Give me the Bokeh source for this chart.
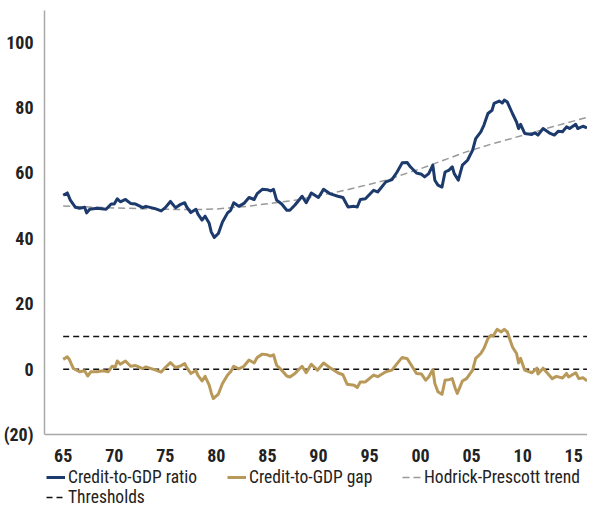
from bokeh.plotting import figure
from bokeh.models import Legend, LegendItem, FixedTicker, Range1d
from bokeh.embed import file_html
from bokeh.resources import INLINE

# ---- data ----
ratio_years = [1965.0, 1965.4, 1965.7, 1966.2, 1966.6, 1967.1, 1967.3, 1967.6, 1968.3, 1969.2,
               1969.7, 1970.0, 1970.3, 1970.6, 1971.1, 1971.6, 1972.1, 1972.8, 1973.1, 1974.0,
               1974.6, 1975.0, 1975.5, 1976.0, 1976.5, 1976.9, 1977.1, 1977.5, 1978.0, 1978.2,
               1978.6, 1978.9, 1979.3, 1979.5, 1979.8, 1980.2, 1980.6, 1981.1, 1981.4, 1981.7,
               1982.2, 1982.7, 1983.2, 1983.7, 1984.0, 1984.5, 1985.0, 1985.3, 1985.6, 1985.9,
               1986.4, 1986.9, 1987.2, 1987.7, 1988.4, 1988.8, 1989.3, 1990.0, 1990.5, 1991.1,
               1991.9, 1992.4, 1992.9, 1993.5, 1993.8, 1994.1, 1994.6, 1995.4, 1995.8, 1996.6,
               1997.2, 1997.7, 1998.2, 1998.7, 1999.0, 1999.6, 2000.1, 2000.4, 2000.8, 2001.2,
               2001.4, 2001.7, 2002.1, 2002.4, 2002.8, 2003.1, 2003.3, 2003.7, 2004.1, 2004.6,
               2005.1, 2005.4, 2005.9, 2006.2, 2006.6, 2007.0, 2007.2, 2007.7, 2008.0, 2008.2,
               2008.5, 2009.0, 2009.4, 2009.6, 2009.8, 2010.2, 2010.9, 2011.2, 2011.5, 2012.0,
               2012.7, 2013.1, 2013.5, 2013.9, 2014.3, 2014.6, 2015.2, 2015.4, 2015.9, 2016.3]
ratio = [53.2, 53.9, 51.7, 49.5, 49.2, 49.5, 47.8, 48.9, 49.2, 48.9,
         50.5, 50.5, 52.1, 51.2, 51.9, 50.7, 50.5, 49.4, 49.8, 49.1,
         48.4, 49.4, 51.3, 49.4, 50.4, 50.9, 49.6, 47.9, 48.9, 47.4,
         45.6, 46.8, 44.6, 42.0, 40.3, 41.5, 45.0, 47.8, 48.6, 50.9,
         49.8, 50.7, 52.5, 51.9, 53.7, 55.0, 54.9, 54.5, 55.0, 51.7,
         50.5, 48.6, 48.6, 50.2, 52.9, 50.9, 53.9, 52.5, 55.0, 53.7,
         52.9, 52.5, 49.6, 49.8, 49.6, 51.9, 52.1, 54.7, 54.2, 57.3,
         58.0, 60.3, 63.1, 63.2, 61.9, 60.0, 59.6, 58.8, 59.8, 62.4,
         57.8, 56.3, 55.7, 60.3, 60.9, 61.9, 59.8, 57.8, 62.4, 63.9,
         67.0, 70.5, 72.6, 74.6, 78.2, 79.2, 81.3, 82.0, 81.4, 82.3,
         81.7, 78.2, 75.6, 73.6, 74.9, 72.1, 71.8, 72.3, 71.6, 73.6,
         72.1, 71.6, 72.8, 72.6, 74.1, 73.6, 74.9, 73.6, 74.3, 73.8]

gap_years = [1965.0, 1965.4, 1965.6, 1966.0, 1966.6, 1967.1, 1967.4, 1967.7, 1968.3, 1968.9,
             1969.4, 1969.8, 1970.1, 1970.3, 1970.6, 1971.1, 1971.6, 1972.1, 1972.8, 1973.1,
             1974.0, 1974.6, 1975.0, 1975.5, 1976.0, 1976.5, 1976.9, 1977.1, 1977.5, 1978.0,
             1978.2, 1978.6, 1978.9, 1979.3, 1979.5, 1979.7, 1980.2, 1980.6, 1981.1, 1981.4,
             1981.7, 1982.2, 1982.7, 1983.2, 1983.7, 1984.0, 1984.5, 1985.0, 1985.3, 1985.6,
             1985.9, 1986.4, 1986.9, 1987.2, 1987.7, 1988.4, 1988.8, 1989.3, 1989.9, 1990.5,
             1991.1, 1991.9, 1992.4, 1992.8, 1993.5, 1993.8, 1994.1, 1994.6, 1995.4, 1995.8,
             1996.6, 1997.2, 1997.7, 1998.2, 1998.7, 1999.1, 1999.6, 2000.1, 2000.5, 2000.8,
             2001.2, 2001.4, 2001.7, 2002.1, 2002.4, 2002.8, 2003.1, 2003.4, 2003.6, 2004.1,
             2004.5, 2005.1, 2005.4, 2005.9, 2006.2, 2006.6, 2006.9, 2007.1, 2007.5, 2007.9,
             2008.2, 2008.5, 2009.0, 2009.4, 2009.6, 2009.8, 2010.2, 2010.9, 2011.4, 2011.5,
             2012.0, 2012.5, 2012.9, 2013.3, 2013.9, 2014.3, 2014.5, 2015.2, 2015.5, 2015.9,
             2016.3]
gap = [3.0, 3.8, 3.0, 0.2, -0.8, -0.5, -2.1, -0.8, -0.8, -0.5,
       -0.8, 0.9, 0.7, 2.5, 1.5, 2.5, 0.9, 1.1, 0.2, 0.7,
       -0.2, -0.9, 0.5, 2.0, 0.5, 1.0, 1.7, 0.5, -1.3, -0.4,
       -1.9, -3.6, -2.2, -4.9, -7.2, -9.0, -7.6, -4.4, -1.8, -0.8,
       0.9, 0.1, 0.9, 2.8, 1.9, 3.6, 4.6, 4.4, 4.0, 4.4,
       1.2, -0.3, -2.1, -2.4, -1.3, 0.9, -1.1, 1.5, -0.3, 1.9,
       0.5, -1.1, -1.7, -4.6, -4.9, -5.6, -3.9, -3.9, -1.8, -2.3,
       -0.8, -0.3, 1.7, 3.6, 3.2, 1.2, -1.3, -1.5, -3.4, -2.4,
       -0.1, -4.4, -6.9, -7.7, -3.4, -3.2, -2.9, -5.9, -7.4, -3.6,
       -2.9, -0.3, 3.3, 4.8, 6.3, 9.4, 10.4, 10.1, 12.2, 11.4,
       12.2, 11.4, 6.8, 4.8, 1.9, 3.3, -0.3, -1.1, 0.3, -1.5,
       0.3, -1.5, -2.9, -2.2, -2.7, -1.3, -2.4, -1.1, -2.9, -2.6,
       -3.6]

trend_years = [1965.0, 1970.0, 1975.0, 1978.0, 1980.0, 1983.0, 1985.0, 1988.0, 1990.0,
               1993.0, 1996.6, 2000.0, 2004.6, 2007.0, 2010.0, 2013.0, 2016.3]
trend = [49.9, 49.3, 48.9, 48.8, 49.0, 49.8, 50.6, 51.8, 53.0,
         55.0, 57.8, 61.3, 66.6, 68.9, 71.5, 74.2, 77.0]

thresholds = [0, 10]

y_ticks = [-20, 0, 20, 40, 60, 80, 100]
y_labels = ["(20)", "0", "20", "40", "60", "80", "100"]
x_ticks = [1965, 1970, 1975, 1980, 1985, 1990, 1995, 2000, 2005, 2010, 2015]
x_labels = ["65", "70", "75", "80", "85", "90", "95", "00", "05", "10", "15"]

legend_labels = ["Credit-to-GDP ratio", "Credit-to-GDP gap", "Hodrick-Prescott trend", "Thresholds"]

# ---- style ----
FONT = "Roboto Condensed"
NAVY = "#1d3a6d"
GOLD = "#b9995a"
TREND = "#999999"
THR = "#111111"
TXT = "#222222"
Y_TOP = 109.7
Y_AXIS_MIN = -20
Y_FRAME_MIN = -42.0   # frame extends below the axis to hold the legend

p = figure(width=587, height=506,
           x_range=Range1d(1963.17, 2016.35), y_range=Range1d(Y_FRAME_MIN, Y_TOP),
           output_backend="svg", toolbar_location=None,
           min_border_left=36, min_border_right=0, min_border_top=10, min_border_bottom=0)
p.outline_line_color = None
p.xgrid.grid_line_color = None
p.ygrid.grid_line_color = None

for ax in (p.xaxis, p.yaxis):
    ax.axis_line_color = "#a8a8a8"
    ax.axis_line_width = 1.5
    ax.major_tick_line_color = None
    ax.minor_tick_line_color = None
    ax.major_label_text_font = FONT
    ax.major_label_text_font_size = "18px"
    ax.major_label_text_font_style = "bold"
    ax.major_label_text_color = TXT

p.yaxis.ticker = FixedTicker(ticks=y_ticks)
p.yaxis.major_label_overrides = dict(zip(y_ticks, y_labels))
p.yaxis.major_label_standoff = 5
p.yaxis.bounds = (Y_AXIS_MIN, Y_TOP)
p.xaxis.ticker = FixedTicker(ticks=x_ticks)
p.xaxis.major_label_overrides = dict(zip(x_ticks, x_labels))
p.xaxis.major_label_standoff = 8
p.xaxis.fixed_location = Y_AXIS_MIN

thr_r = []
for t in thresholds:
    thr_r.append(p.line([gap_years[0], gap_years[-1]], [t, t], line_color=THR,
                        line_width=1.5, line_dash="6 4"))
r_trend = p.line(trend_years, trend, line_color=TREND, line_width=1.5, line_dash="7 4")
r_gap = p.line(gap_years, gap, line_color=GOLD, line_width=3, line_join="round")
r_ratio = p.line(ratio_years, ratio, line_color=NAVY, line_width=3, line_join="round")

for r, lab, loc in zip([r_ratio, r_gap, r_trend, thr_r[0]], legend_labels,
                       [(2, 19), (183, 19), (358, 19), (2, -1)]):
    leg = Legend(items=[LegendItem(label=lab, renderers=[r])],
                 location=loc, orientation="horizontal",
                 padding=0, margin=0, spacing=0,
                 border_line_color=None, background_fill_alpha=0,
                 label_text_font=FONT, label_text_font_size="17.5px",
                 label_text_color=TXT,
                 glyph_width=19, glyph_height=18, label_height=18,
                 label_standoff=3)
    p.add_layout(leg, "center")

open("out.html", "w").write(file_html(p, INLINE))
